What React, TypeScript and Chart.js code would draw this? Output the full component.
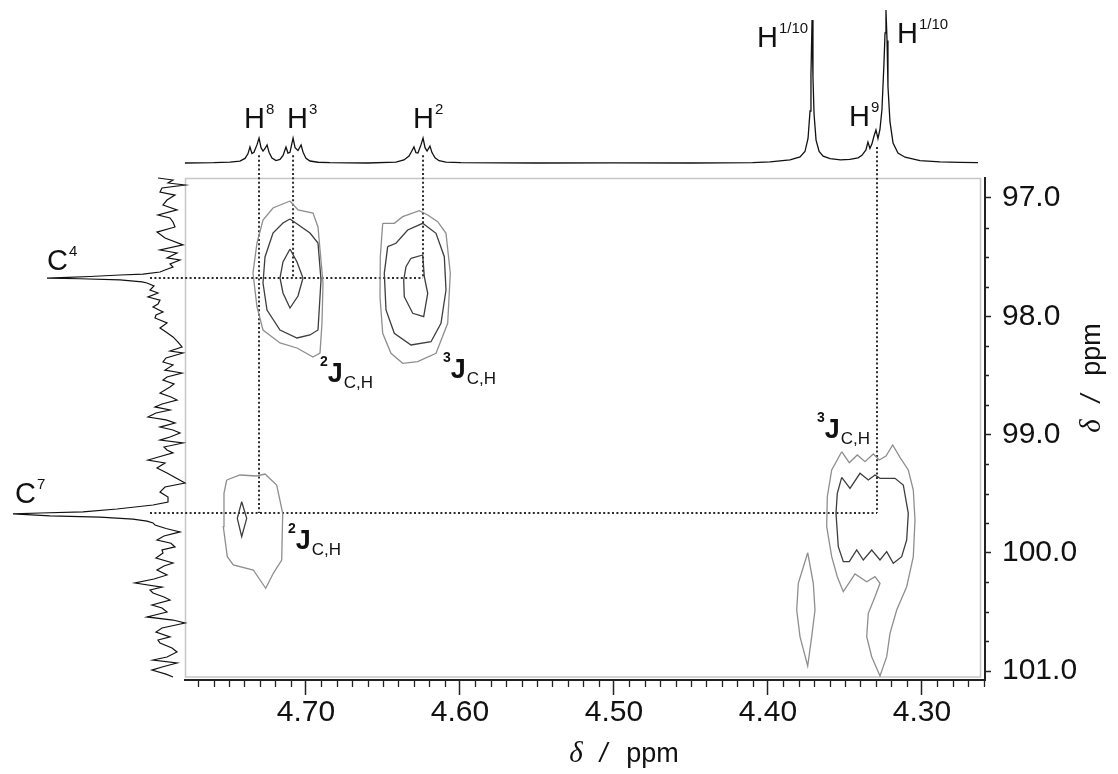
import { useEffect, useRef } from 'react';
import { Chart, registerables } from 'chart.js';

Chart.register(...registerables);

const SANS = '"Liberation Sans", Arial, Helvetica, sans-serif';
const SERIF = '"Liberation Serif", "Times New Roman", serif';

// 1H projection (top trace): δH / ppm and relative intensity
const protonShift = [
  4.7786, 4.76, 4.7494, 4.7429, 4.7396, 4.7377, 4.7364, 4.7351, 4.7338, 4.7318, 4.7305, 4.7292,
  4.7279, 4.7266, 4.7253, 4.724, 4.7221, 4.7195, 4.7169, 4.7149, 4.713, 4.7117, 4.7104, 4.7084,
  4.7071, 4.7052, 4.7032, 4.7019, 4.7, 4.6974, 4.6922, 4.6844, 4.66, 4.6416, 4.6364, 4.6331,
  4.6312, 4.6299, 4.6286, 4.6273, 4.6253, 4.624, 4.6227, 4.6214, 4.6195, 4.6182, 4.6162, 4.6136,
  4.6091, 4.5994, 4.55, 4.5, 4.45, 4.41, 4.3987, 4.3857, 4.3792, 4.376, 4.374, 4.3727, 4.3721,
  4.3714, 4.3708, 4.3701, 4.3688, 4.3668, 4.3642, 4.3597, 4.353, 4.3468, 4.3415, 4.339, 4.3364, 4.3351,
  4.3338, 4.3325, 4.3312, 4.3299, 4.3286, 4.3273, 4.326, 4.3247, 4.324, 4.3234, 4.3227, 4.3221,
  4.3208, 4.3188, 4.3156, 4.311, 4.3013, 4.2883, 4.2753, 4.2636,
];
const protonIntensity = [
  0.0, 0.002, 0.006, 0.012, 0.03, 0.06, 0.105, 0.062, 0.07, 0.12, 0.163, 0.1,
  0.078, 0.095, 0.118, 0.07, 0.032, 0.016, 0.024, 0.05, 0.105, 0.065, 0.07, 0.163,
  0.1, 0.082, 0.118, 0.07, 0.03, 0.013, 0.005, 0.002, 0.0, 0.006, 0.02, 0.045,
  0.08, 0.105, 0.068, 0.065, 0.12, 0.163, 0.1, 0.078, 0.11, 0.068, 0.034, 0.015,
  0.006, 0.002, 0.0, 0.001, 0.0, 0.003, 0.008, 0.02, 0.04, 0.075, 0.16, 0.34, 0.58,
  0.935, 0.56, 0.32, 0.15, 0.075, 0.045, 0.028, 0.02, 0.024, 0.034, 0.05, 0.085, 0.137,
  0.095, 0.125, 0.175, 0.216, 0.16, 0.22, 0.35, 0.65, 0.85, 1.0, 0.8, 0.5,
  0.27, 0.13, 0.065, 0.038, 0.016, 0.008, 0.004, 0.002,
];

// 13C projection (left trace): δC / ppm and intensity (a.u.)
const carbonShift = [
  96.831, 96.848, 96.873, 96.89, 96.915, 96.949, 96.975, 97.017, 97.059, 97.101, 97.144, 97.169,
  97.203, 97.245, 97.288, 97.338, 97.397, 97.44, 97.465, 97.507, 97.524, 97.558, 97.584, 97.609,
  97.626, 97.643, 97.651, 97.664, 97.672, 97.677, 97.683, 97.693, 97.71, 97.719, 97.744, 97.778,
  97.803, 97.837, 97.863, 97.897, 97.922, 97.964, 97.989, 98.015, 98.057, 98.099, 98.133, 98.175,
  98.218, 98.26, 98.294, 98.311, 98.353, 98.387, 98.412, 98.455, 98.48, 98.514, 98.539, 98.573,
  98.598, 98.649, 98.683, 98.708, 98.742, 98.767, 98.793, 98.818, 98.852, 98.877, 98.903, 98.937,
  98.962, 98.987, 99.021, 99.047, 99.072, 99.106, 99.131, 99.156, 99.199, 99.216, 99.241, 99.283,
  99.326, 99.368, 99.41, 99.444, 99.487, 99.529, 99.571, 99.596, 99.63, 99.655, 99.664, 99.672,
  99.689, 99.698, 99.715, 99.732, 99.748, 99.765, 99.795, 99.824, 99.858, 99.892, 99.92, 99.951,
  99.977, 100.002, 100.044, 100.087, 100.112, 100.146, 100.188, 100.222, 100.256, 100.29, 100.315,
  100.34, 100.374, 100.4, 100.442, 100.467, 100.501, 100.543, 100.569, 100.594, 100.636, 100.67,
  100.712, 100.738, 100.763, 100.805, 100.839, 100.882, 100.907, 100.932, 100.966, 100.992, 101.026,
  101.051,
];
const carbonIntensity = [
  10, -5, 0, -17, 6, 8, -7, 1, 5, -9, 10, -2,
  -5, -7, 11, 3, -15, 8, -9, 1, -12, -2, -5, 3,
  8, 25, 48, 78, 100, 121, 88, 48, 26, 21, 14, 18,
  10, 20, 8, 10, 15, 5, 12, 13, 1, 8, 2, -5,
  -10, -14, -2, -15, 2, 5, -5, 3, -14, 1, 5, -6,
  -2, 8, -3, -9, 6, 13, -2, 12, 20, 2, -7, 8,
  -5, -12, -2, 8, -15, 4, 1, -5, 13, 20, 3, 11,
  1, -8, -17, 3, 8, 0, 0, 15, 51, 85, 128, 155,
  118, 68, 35, 21, 15, 13, 2, -12, 4, 11, -3, -7,
  6, 5, 12, -5, 4, 11, 1, 14, 33, 6, 18,
  15, 4, -2, 16, 6, 1, 21, -5, -17, 6, 12,
  -2, 10, 8, -4, -9, 1, 15, -9, 6, 16, 2,
  -5,
];

// axis ticks
const hTicks = [4.7, 4.6, 4.5, 4.4, 4.3];
const cTicks = [97, 98, 99, 100, 101];

// correlations: H8, H3, H2, H9 against C7, C4, C4, C7
const crossH = [4.7305, 4.7084, 4.624, 4.3292];
const crossC = [99.664, 97.677, 97.677, 99.664];
const crossTop = [0.05, 0.05, 0.05, 0.105];
const carbonRows = [97.677, 99.664];
const carbonRowEnd = [4.624, 4.3292];

// contour levels, [δH, δC]
const h3c4Outer = [
  [4.71039, 97.0254], [4.70519, 97.1015], [4.69545, 97.1268], [4.69221, 97.2452], [4.68896, 97.7188],
  [4.68961, 98.0571], [4.69091, 98.3108], [4.69545, 98.3446], [4.70584, 98.2685], [4.71688, 98.2262],
  [4.72792, 98.1163], [4.73182, 97.9218], [4.73442, 97.6342], [4.73182, 97.3805], [4.72792, 97.186],
  [4.72143, 97.0846],
];
const h3c4Mid = [
  [4.71039, 97.1776], [4.6974, 97.296], [4.69221, 97.3805], [4.69026, 97.6934], [4.69221, 98.1163],
  [4.6974, 98.1586], [4.70584, 98.1839], [4.71688, 98.1163], [4.72532, 97.9471], [4.72792, 97.7188],
  [4.72662, 97.4989], [4.72143, 97.296], [4.71494, 97.2114],
];
const h3c4Inner = [
  [4.71039, 97.4313], [4.70584, 97.5412], [4.70195, 97.6765], [4.70519, 97.8288], [4.71039, 97.9302],
  [4.71494, 97.8034], [4.71688, 97.6765], [4.71494, 97.5412],
];
const h2c4Outer = [
  [4.65019, 97.214], [4.64266, 97.214], [4.63721, 97.1581], [4.62643, 97.1074], [4.62097, 97.1438],
  [4.61448, 97.2004], [4.60909, 97.2985], [4.6063, 97.6368], [4.60799, 98.0596], [4.61558, 98.3133],
  [4.62747, 98.3843], [4.63721, 98.3979], [4.64481, 98.3133], [4.65019, 98.1442], [4.65195, 97.8347],
  [4.65175, 97.4964],
];
const h2c4Mid = [
  [4.64695, 97.4118], [4.64156, 97.3831], [4.63396, 97.2706], [4.62422, 97.214], [4.61558, 97.2985],
  [4.61019, 97.4964], [4.60909, 97.778], [4.61234, 98.0596], [4.61883, 98.2152], [4.63182, 98.2431],
  [4.64266, 98.1442], [4.64805, 97.9471], [4.64916, 97.6368],
];
const h2c4Inner = [
  [4.63182, 97.5099], [4.62422, 97.482], [4.62318, 97.6655], [4.62097, 97.8059], [4.62357, 98.0038],
  [4.63071, 97.9751], [4.63617, 97.8347], [4.63656, 97.6934], [4.63506, 97.581],
];
const h8c7Outer = [
  [4.75149, 99.3848], [4.74286, 99.3425], [4.73201, 99.351], [4.72662, 99.334], [4.71903, 99.4271],
  [4.71513, 99.6664], [4.71578, 100.0613], [4.72123, 100.1738], [4.72617, 100.3006], [4.73422, 100.1459],
  [4.74721, 100.1036], [4.7511, 100.0334], [4.7537, 99.7797], [4.75325, 99.4972],
];
const h8c7Inner = [
  [4.74175, 99.5683], [4.73851, 99.7087], [4.74175, 99.8643], [4.74461, 99.7087],
];
const h9c7Outer = [
  [4.35214, 99.1455], [4.34721, 99.2385], [4.34201, 99.1734], [4.33701, 99.23], [4.33162, 99.1649],
  [4.32773, 99.2156], [4.32338, 99.1818], [4.31903, 99.0888], [4.31429, 99.1928], [4.3089, 99.3002],
  [4.30565, 99.4693], [4.30455, 99.723], [4.30565, 100.0334], [4.30994, 100.2871], [4.31643, 100.4841],
  [4.32078, 100.6812], [4.32292, 100.8791], [4.32727, 101.0423], [4.33266, 100.8791], [4.33591, 100.7099],
  [4.33487, 100.5121], [4.33052, 100.3717], [4.32727, 100.2584], [4.33052, 100.2025], [4.33591, 100.2448],
  [4.34351, 100.1797], [4.3511, 100.3294], [4.355, 100.2025], [4.35864, 100.0334], [4.36188, 99.7797],
  [4.36149, 99.526], [4.35864, 99.3002],
];
const h9c7Inner = [
  [4.35214, 99.362], [4.34675, 99.455], [4.34026, 99.3281], [4.33487, 99.3848], [4.33052, 99.3425],
  [4.32727, 99.3704], [4.31753, 99.3704], [4.31214, 99.4271], [4.3089, 99.6664], [4.30994, 99.8922],
  [4.31318, 100.0334], [4.31864, 100.0892], [4.32292, 99.9911], [4.32727, 100.0613], [4.33266, 99.9767],
  [4.33812, 100.0613], [4.3424, 99.9767], [4.34721, 100.0757], [4.3511, 100.0757], [4.35435, 99.9488],
  [4.35584, 99.6664], [4.355, 99.4972],
];
const sideLobe = [
  [4.37422, 99.9996], [4.37058, 100.2584], [4.36948, 100.4841], [4.37162, 100.7099], [4.37422, 100.9577],
  [4.37922, 100.7099], [4.38136, 100.4841], [4.38032, 100.2584],
];

// signal labels: main letter, superscript, left x and baseline y
const signalLabels = [
  { main: 'H', sup: '8', x: 244, y: 128 },
  { main: 'H', sup: '3', x: 287, y: 128 },
  { main: 'H', sup: '2', x: 413, y: 128 },
  { main: 'H', sup: '1/10', x: 757, y: 47 },
  { main: 'H', sup: '9', x: 849, y: 126 },
  { main: 'H', sup: '1/10', x: 897, y: 43 },
  { main: 'C', sup: '4', x: 47, y: 270 },
  { main: 'C', sup: '7', x: 15, y: 503 },
];
// coupling labels nJ(C,H): order n, left x and baseline y of the J
const couplingLabels = [
  { n: '2', x: 320, y: 382 },
  { n: '3', x: 443, y: 378 },
  { n: '2', x: 288, y: 549 },
  { n: '3', x: 817, y: 438 },
];

const LIGHT = '#8e8e8e';
const DARK = '#3d3d3d';

const closed = (pts: number[][]) => [...pts, pts[0]].map(([x, y]) => ({ x, y }));

function drawAxisTitle(ctx: CanvasRenderingContext2D, cx: number, cy: number, rot: number) {
  const parts = [
    { t: 'δ', font: `italic 29px ${SERIF}`, gap: 0 },
    { t: '/', font: `italic 27px ${SANS}`, gap: 17 },
    { t: 'ppm', font: `27px ${SANS}`, gap: 19 },
  ];
  let total = 0;
  const widths = parts.map((p) => {
    ctx.font = p.font;
    const w = ctx.measureText(p.t).width;
    total += w + p.gap;
    return w;
  });
  ctx.save();
  ctx.translate(cx, cy);
  ctx.rotate(rot);
  ctx.fillStyle = '#111';
  ctx.textBaseline = 'alphabetic';
  ctx.textAlign = 'left';
  let xx = -total / 2;
  parts.forEach((p, i) => {
    xx += p.gap;
    ctx.font = p.font;
    ctx.fillText(p.t, xx, 0);
    xx += widths[i];
  });
  ctx.restore();
}

export default function App() {
  const ref = useRef<HTMLCanvasElement>(null);

  useEffect(() => {
    const canvas = ref.current;
    if (!canvas) return;

    const contour = (pts: number[][], color: string) => ({
      data: closed(pts),
      xAxisID: 'x',
      yAxisID: 'y',
      showLine: true,
      borderColor: color,
      borderWidth: 1.3,
      pointRadius: 0,
      tension: 0,
      clip: false as const,
    });

    const framePlugin = {
      id: 'frame',
      beforeDatasetsDraw(chart: any) {
        const { ctx, chartArea: a, scales } = chart;
        ctx.save();
        ctx.strokeStyle = '#c6c6c6';
        ctx.lineWidth = 1.5;
        ctx.strokeRect(a.left + 0.5, a.top + 0.5, a.right - a.left - 5, a.bottom - a.top - 3.5);
        // dotted correlation guides
        ctx.setLineDash([2, 2.4]);
        ctx.lineWidth = 2;
        ctx.strokeStyle = '#2b2b2b';
        ctx.beginPath();
        crossH.forEach((h, i) => {
          const px = scales.x.getPixelForValue(h);
          ctx.moveTo(px, scales.yH.getPixelForValue(crossTop[i]));
          ctx.lineTo(px, scales.y.getPixelForValue(crossC[i]));
        });
        carbonRows.forEach((c, i) => {
          const py = scales.y.getPixelForValue(c);
          ctx.moveTo(scales.xC.getPixelForValue(18), py);
          ctx.lineTo(scales.x.getPixelForValue(carbonRowEnd[i]), py);
        });
        ctx.stroke();
        ctx.restore();
      },
    };

    const minorTickPlugin = {
      id: 'minorTicks',
      afterDraw(chart: any) {
        const { ctx, scales } = chart;
        const sx = scales.x;
        const sy = scales.y;
        ctx.save();
        ctx.strokeStyle = '#222';
        ctx.lineWidth = 1.3;
        ctx.beginPath();
        for (let k = 426; k <= 477; k++) {
          if (k % 10 === 0) continue;
          const px = Math.round(sx.getPixelForValue(k / 100)) + 0.5;
          ctx.moveTo(px, sx.top);
          ctx.lineTo(px, sx.top + 7);
        }
        for (let k = 388; k <= 404; k++) {
          if (k % 4 === 0) continue;
          const py = Math.round(sy.getPixelForValue(k / 4)) + 0.5;
          ctx.moveTo(sy.left, py);
          ctx.lineTo(sy.left + 4, py);
        }
        ctx.stroke();
        ctx.restore();
      },
    };

    const labelPlugin = {
      id: 'labels',
      afterDraw(chart: any) {
        const { ctx } = chart;
        ctx.save();
        ctx.fillStyle = '#111';
        ctx.textBaseline = 'alphabetic';
        ctx.textAlign = 'left';
        signalLabels.forEach((l) => {
          ctx.font = `29px ${SANS}`;
          ctx.fillText(l.main, l.x, l.y);
          const w = ctx.measureText(l.main).width;
          ctx.font = `15px ${SANS}`;
          ctx.fillText(l.sup, l.x + w + 1, l.y - 14);
        });
        couplingLabels.forEach((l) => {
          ctx.font = `bold 14px ${SANS}`;
          ctx.fillText(l.n, l.x, l.y - 16);
          const wn = ctx.measureText(l.n).width;
          ctx.font = `bold 27px ${SANS}`;
          ctx.fillText('J', l.x + wn, l.y);
          const wj = ctx.measureText('J').width;
          ctx.font = `17px ${SANS}`;
          ctx.fillText('C,H', l.x + wn + wj + 1, l.y + 6);
        });
        const sx = chart.scales.x;
        drawAxisTitle(ctx, sx.getPixelForValue(4.5) + 10, 762, 0);
        drawAxisTitle(ctx, 1100, 378, -Math.PI / 2);
        ctx.restore();
      },
    };

    const tickFont = { family: SANS, size: 30 };

    const chart = new Chart(canvas, {
      type: 'scatter',
      data: {
        datasets: [
          {
            data: protonShift.map((x, i) => ({ x, y: protonIntensity[i] })),
            xAxisID: 'x',
            yAxisID: 'yH',
            showLine: true,
            borderColor: '#111',
            borderWidth: 1.3,
            pointRadius: 0,
            tension: 0,
            clip: false as const,
          },
          {
            data: carbonShift.map((y, i) => ({ x: carbonIntensity[i], y })),
            xAxisID: 'xC',
            yAxisID: 'y',
            showLine: true,
            borderColor: '#111',
            borderWidth: 1.2,
            pointRadius: 0,
            tension: 0,
            clip: false as const,
          },
          contour(h3c4Outer, LIGHT),
          contour(h3c4Mid, DARK),
          contour(h3c4Inner, DARK),
          contour(h2c4Outer, LIGHT),
          contour(h2c4Mid, DARK),
          contour(h2c4Inner, DARK),
          contour(h8c7Outer, LIGHT),
          contour(h8c7Inner, DARK),
          contour(h9c7Outer, LIGHT),
          contour(h9c7Inner, DARK),
          contour(sideLobe, LIGHT),
        ] as any,
      },
      options: {
        responsive: false,
        animation: false,
        events: [],
        layout: { padding: { left: 185, top: 178, right: 0, bottom: 0 } },
        plugins: { legend: { display: false }, tooltip: { enabled: false } },
        scales: {
          x: {
            type: 'linear',
            position: 'bottom',
            reverse: true,
            min: 4.25909,
            max: 4.77857,
            afterBuildTicks: (s: any) => {
              s.ticks = hTicks.map((v) => ({ value: v }));
            },
            afterFit: (s: any) => {
              s.height = 94;
            },
            ticks: {
              autoSkip: false,
              maxRotation: 0,
              padding: 0,
              color: '#111',
              font: tickFont,
              callback: (v: any) => Number(v).toFixed(2),
            },
            grid: { drawOnChartArea: false, drawTicks: true, tickLength: 15, tickColor: '#222', tickWidth: 1.5 },
            border: { display: true, color: '#222', width: 2 },
          },
          y: {
            type: 'linear',
            position: 'right',
            reverse: true,
            min: 96.8309,
            max: 101.0761,
            afterBuildTicks: (s: any) => {
              s.ticks = cTicks.map((v) => ({ value: v }));
            },
            afterFit: (s: any) => {
              s.width = 133;
            },
            ticks: {
              autoSkip: false,
              padding: 11,
              color: '#111',
              font: tickFont,
              callback: (v: any) => Number(v).toFixed(1),
            },
            grid: { drawOnChartArea: false, drawTicks: true, tickLength: 6, tickColor: '#222', tickWidth: 1.5 },
            border: { display: true, color: '#222', width: 2 },
          },
          yH: { type: 'linear', axis: 'y', display: false, min: -3.379, max: -0.09802 },
          xC: { type: 'linear', axis: 'x', display: false, reverse: true, min: -817, max: -17 },
        } as any,
      },
      plugins: [framePlugin, minorTickPlugin, labelPlugin],
    });

    return () => chart.destroy();
  }, []);

  return (
    <div style={{ position: 'fixed', left: 0, top: 0, width: 1118, height: 774, background: '#fff' }}>
      <canvas ref={ref} width={1118} height={774} style={{ display: 'block', width: 1118, height: 774 }} />
    </div>
  );
}
